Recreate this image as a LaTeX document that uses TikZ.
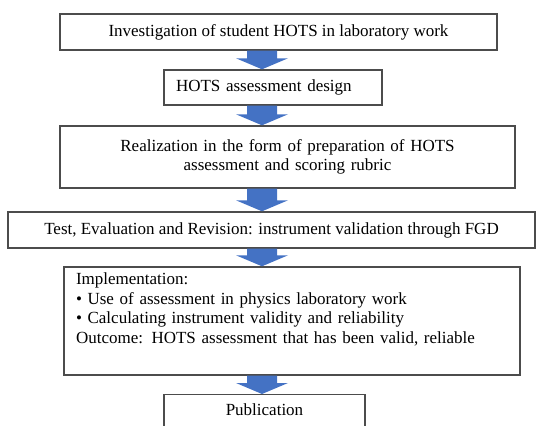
\documentclass[tikz,border=0pt]{standalone}
\usepackage{fontspec}
\setmainfont{Liberation Serif}
\usetikzlibrary{calc}
\definecolor{arrowblue}{RGB}{68,114,196}
\tikzset{
  stage/.style={draw=black!70, line width=1.4pt, fill=white, inner xsep=12pt,
    font=\fontsize{17}{19.5}\selectfont},
}
\newcommand{\flowarrow}[2]{%
  \fill [arrowblue] let \p1=(#1.south -| ax), \p2=(#2.north -| ax) in
    (\x1-15pt,\y1) -- (\x1+15pt,\y1) -- (\x1+15pt,\y2+11pt) -- (\x1+26pt,\y2+11pt)
    -- (\x1,\y2) -- (\x1-26pt,\y2+11pt) -- (\x1-15pt,\y2+11pt) -- cycle;}

\begin{document}
\begin{tikzpicture}[x=1pt,y=-1pt]
\useasboundingbox (0,0) rectangle (537,425);
\clip (0,0) rectangle (537,425);
\coordinate (ax) at (262,0);
\node [stage, minimum width=437pt, minimum height=36pt] (invest) at (278.5,32)
  {Investigation of student HOTS in laboratory work};
\node [stage, text width=194pt, align=left, minimum height=35pt] (design) at (273,87.5)
  {HOTS assessment design};
\node [stage, text width=431pt, align=center, minimum height=62pt] (real) at (287.5,157)
  {Realization in the form of preparation of HOTS\\assessment and scoring rubric};
\node [stage, minimum width=527pt, minimum height=36pt] (test) at (271.5,230)
  {Test, Evaluation and Revision: instrument validation through FGD};
\node [stage, text width=432pt, align=left, minimum height=108pt] (impl) at (292,321)
  {Implementation:\\
   \textbullet{} Use of assessment in physics laboratory work\\
   \textbullet{} Calculating instrument validity and reliability\\
   Outcome: HOTS assessment that has been valid, reliable\\ \strut};
\node [stage, minimum width=201pt, inner ysep=9pt, text depth=24pt, anchor=north] (pub) at (264.5,394)
  {Publication};
\flowarrow{invest}{design}
\flowarrow{design}{real}
\flowarrow{real}{test}
\flowarrow{test}{impl}
\flowarrow{impl}{pub}
\end{tikzpicture}
\end{document}
